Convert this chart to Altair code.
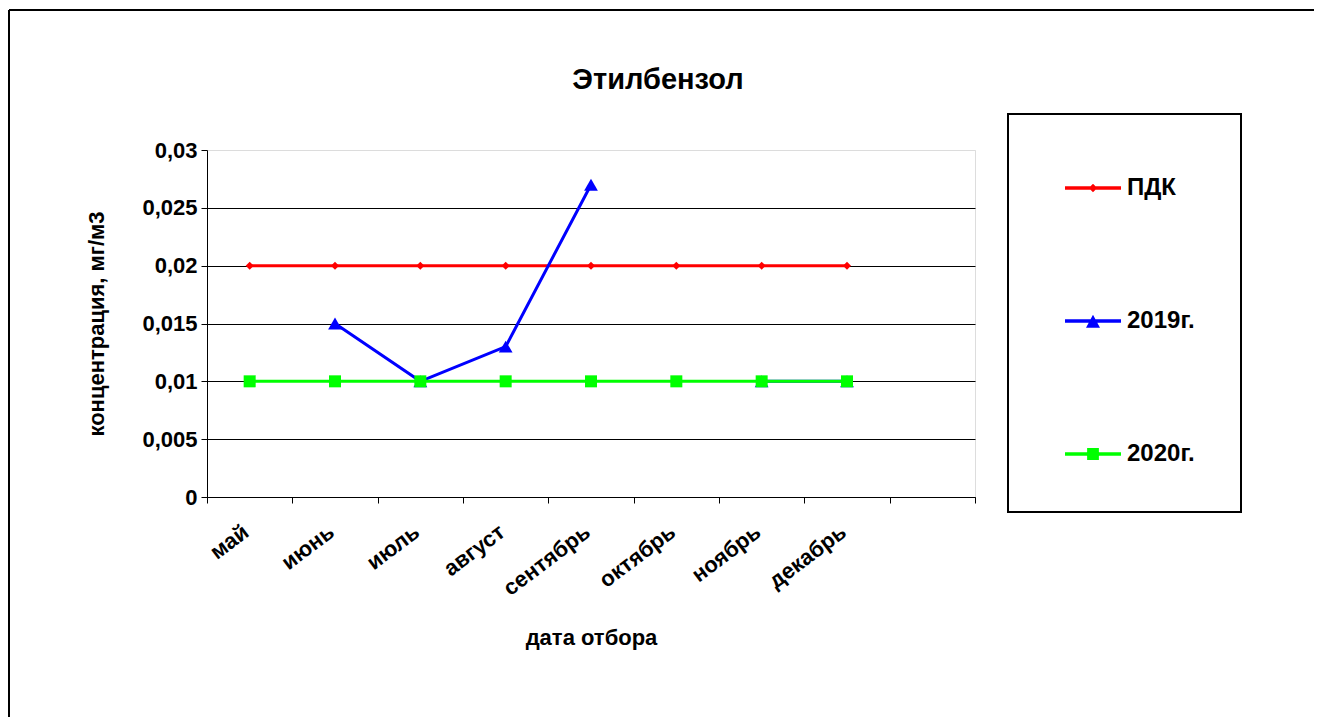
import altair as alt
import pandas as pd

# ---- data ----
months = ["май", "июнь", "июль", "август", "сентябрь", "октябрь", "ноябрь", "декабрь"]
slots = months + [" "]  # Excel axis has one extra empty category at the end
series_names = ["ПДК", "2019г.", "2020г."]
pdk = [0.02, 0.02, 0.02, 0.02, 0.02, 0.02, 0.02, 0.02]
y2019 = [None, 0.015, 0.01, 0.013, 0.027, None, 0.01, 0.01]
y2020 = [0.01, 0.01, 0.01, 0.01, 0.01, 0.01, 0.01, 0.01]
y_ticks = [0, 0.005, 0.01, 0.015, 0.02, 0.025, 0.03]

colors = ["#FF0000", "#0000FF", "#00FF00"]
markers = ["diamond", "triangle-up", "square"]
marker_sizes = [64, 190, 144]

# legend symbols: line + marker drawn as one custom path (unit = half symbol width)
legend_paths = [
    "M-1,-0.06L1,-0.06L1,0.06L-1,0.06Z M0,-0.15L0.15,0L0,0.15L-0.15,0Z",
    "M-1,-0.06L1,-0.06L1,0.06L-1,0.06Z M0,-0.22L0.25,0.24L-0.25,0.24Z",
    "M-1,-0.06L1,-0.06L1,0.06L-1,0.06Z M-0.21,-0.21L0.21,-0.21L0.21,0.21L-0.21,0.21Z",
]

FONT = "Liberation Sans"

rows = []
for name, vals in zip(series_names, [pdk, y2019, y2020]):
    seg = 0
    prev = False
    for m, v in zip(months, vals):
        if v is None:
            prev = False
            continue
        if not prev:
            seg += 1
        prev = True
        rows.append({"series": name, "month": m, "value": v, "seg": f"{name}-{seg}"})
df = pd.DataFrame(rows)

color_scale = alt.Scale(domain=series_names, range=colors)

x_enc = alt.X(
    "month:N",
    bandPosition=0.5,
    scale=alt.Scale(type="band", domain=slots, paddingInner=0, paddingOuter=0),
    axis=alt.Axis(
        title="дата отбора",
        titleFont=FONT, titleFontSize=22, titleFontWeight="bold", titleColor="black",
        titlePadding=28,
        labelFont=FONT, labelFontSize=22, labelFontWeight="bold", labelColor="black",
        labelAngle=-37, labelAlign="right", labelBaseline="top", labelPadding=18,
        labelOffset=-10,
        tickBand="extent", tickSize=6, tickColor="black", tickWidth=1,
        domainColor="black", domainWidth=1, grid=False,
    ),
)
y_enc = alt.Y(
    "value:Q",
    scale=alt.Scale(domain=[0, 0.03], nice=False, zero=True),
    axis=alt.Axis(
        title="концентрация, мг/м3",
        titleFont=FONT, titleFontSize=22, titleFontWeight="bold", titleColor="black",
        titlePadding=33,
        values=y_ticks,
        labelExpr="replace(toString(datum.value), '.', ',')",
        labelFont=FONT, labelFontSize=22, labelFontWeight="bold", labelColor="black",
        labelPadding=4,
        tickSize=6, tickColor="black", tickWidth=1,
        domainColor="black", domainWidth=1,
        grid=True, gridWidth=1,
        gridColor={"condition": {"test": "datum.value >= 0.03", "value": "#dcdcdc"}, "value": "black"},
    ),
)

legend_def = alt.Legend(
    title=None, orient="none", legendX=801, legendY=-36,
    strokeColor="black", padding=46, fillColor="white",
    labelFont=FONT, labelFontSize=24, labelFontWeight="bold", labelColor="black",
    labelOffset=6, rowPadding=93, symbolSize=3136, symbolStrokeWidth=0,
    symbolOffset=11, symbolOpacity=1,
)
# invisible carrier layer (first, so its legend settings win): line + marker symbols
legend_layer = alt.Chart(df).mark_point(
    filled=True, size=1, opacity=0
).encode(
    x=x_enc, y=y_enc,
    color=alt.Color("series:N", scale=color_scale, legend=legend_def),
    shape=alt.Shape("series:N", scale=alt.Scale(domain=series_names, range=legend_paths), legend=legend_def),
)

layers = []
for name, col, mk, ms in zip(series_names, colors, markers, marker_sizes):
    sub = df[df["series"] == name]
    base = alt.Chart(sub)
    line = base.mark_line(strokeWidth=3).encode(
        x=x_enc, y=y_enc, detail="seg:N",
        color=alt.Color("series:N", scale=color_scale),
    )
    pts = base.mark_point(filled=True, shape=mk, size=ms, opacity=1, strokeWidth=0).encode(
        x=x_enc, y=y_enc,
        color=alt.Color("series:N", scale=color_scale),
    )
    layers += [line, pts]

frame_df = pd.DataFrame({"k": [0]})
frame_top = alt.Chart(frame_df).mark_rule(color="black", strokeWidth=2).encode(
    x=alt.value(-198), x2=alt.value(1107), y=alt.value(-140)
)
frame_left = alt.Chart(frame_df).mark_rule(color="black", strokeWidth=2).encode(
    x=alt.value(-198), y=alt.value(-140), y2=alt.value(567)
)

chart = alt.layer(legend_layer, frame_top, frame_left, *layers).properties(
    width=768, height=347,
    title=alt.Title("Этилбензол", font=FONT, fontSize=29, fontWeight="bold", color="black",
                    anchor="middle", dx=67, offset=-86),
    padding={"left": 199, "top": 142, "right": 339, "bottom": 220},
    autosize=alt.AutoSizeParams(type="none"),
).configure_view(stroke=None).configure(background="white").configure_legend(strokeWidth=2)

chart.save("out.html", embed_options={"renderer": "svg", "actions": False})
